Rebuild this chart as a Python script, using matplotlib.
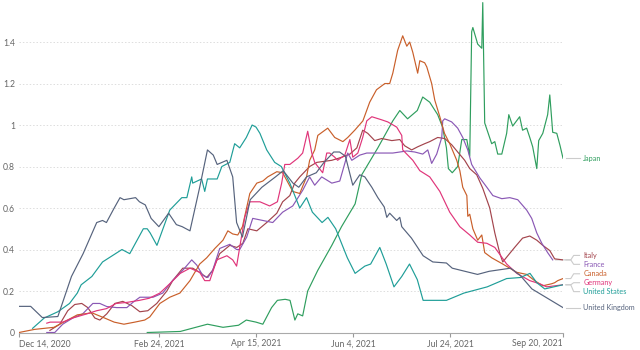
import numpy as np
import pandas as pd
import matplotlib
matplotlib.use("Agg")
import matplotlib.pyplot as plt
import matplotlib.dates as mdates

plt.rcParams['font.family'] = ['Lato', 'DejaVu Sans']

# ---------------- data ----------------
start_date = "2020-12-14"
end_date = "2021-09-20"

countries = ["Japan", "Italy", "France", "Canada", "Germany", "United States", "United Kingdom"]

japan_days = [66, 83, 89, 97, 105, 113, 117, 122, 125.5, 130, 133, 137, 139.5, 142, 143.5, 146,
              148.6, 153.8, 161, 166, 173, 176.4, 184.7, 192.4, 196, 200, 205, 207.8, 211.4, 215.5,
              218, 220, 221, 223, 225.8, 227.9, 230.5, 232, 233, 233.6, 236.1, 238.2, 238.7, 239.7,
              243.3, 244.9, 246.4, 248.5, 251, 252.1, 254.1, 257.7, 259.2, 261.3, 262.9, 264.4,
              266.5, 267.5, 269.6, 272.1, 273.2, 274.7, 276.8, 278.5, 280]
japan_vals = [0.0, 0.005, 0.02, 0.04, 0.025, 0.035, 0.06, 0.05, 0.04, 0.12, 0.155, 0.16, 0.155, 0.06,
              0.09, 0.08, 0.20, 0.30, 0.42, 0.51, 0.62, 0.76, 0.89, 1.02, 1.07, 1.03, 1.07, 1.135,
              1.11, 1.05, 0.99, 0.89, 0.79, 0.77, 0.80, 0.93, 0.93, 0.85, 1.45, 1.47, 1.39, 1.37,
              1.59, 1.01, 0.91, 0.92, 0.86, 0.86, 0.96, 1.05, 0.995, 1.04, 0.975, 0.985, 0.94,
              0.895, 0.79, 0.925, 0.96, 1.05, 1.145, 0.965, 0.96, 0.90, 0.84]

italy_days = [15.9, 21, 25.1, 28.7, 32.3, 35.4, 39, 41.6, 45.2, 49.3, 53.4, 58, 62.2, 66.3, 70.9,
              76.1, 79.1, 84.3, 89.4, 93, 96.6, 99.7, 103.3, 108.5, 112.1, 115.2, 117.8, 122.4,
              127.5, 132.7, 135.7, 139.4, 141.9, 144.5, 149.6, 153.3, 161, 166.2, 170.3, 173.9,
              176.9, 179.5, 183.1, 186.7, 191.9, 196, 198.5, 202.1, 205.2, 208.8, 211.4, 215.5,
              219.1, 222.7, 225.8, 229.4, 232, 235.6, 238.7, 242.3, 244.9, 247.5, 249, 251.6,
              255.1, 259.2, 262.9, 266.5, 269.6, 273.2, 275.7, 280]
italy_vals = [0.01, 0.04, 0.105, 0.135, 0.14, 0.12, 0.07, 0.06, 0.09, 0.14, 0.15, 0.13, 0.10, 0.105,
              0.14, 0.20, 0.25, 0.31, 0.31, 0.29, 0.265, 0.30, 0.38, 0.42, 0.41, 0.43, 0.50, 0.49,
              0.53, 0.575, 0.63, 0.66, 0.72, 0.75, 0.80, 0.82, 0.83, 0.845, 0.86, 0.89, 0.975,
              0.96, 0.925, 0.935, 0.925, 0.93, 0.90, 0.88, 0.895, 0.91, 0.92, 0.94, 0.935, 0.905,
              0.87, 0.83, 0.79, 0.76, 0.695, 0.60, 0.48, 0.38, 0.34, 0.37, 0.41, 0.455, 0.465,
              0.445, 0.42, 0.395, 0.355, 0.35]

france_days = [14.3, 18.4, 22.5, 27.7, 32.8, 38, 41.6, 45.2, 50.3, 55.5, 58.6, 62.2, 69, 74, 79,
               84.3, 88.9, 91.5, 94.6, 97.2, 99.7, 103.3, 108.5, 112, 113.6, 117.2, 120.3, 125.5,
               130.6, 135.7, 140.9, 146, 149.6, 152.2, 155.8, 161, 165.1, 169.2, 171.3, 175.4, 179,
               185.7, 192.4, 196, 199.6, 203.7, 207.8, 210.4, 212.4, 215, 217.6, 218.1, 219.1,
               222.7, 225.8, 228.4, 231, 233, 237.2, 240.8, 243.9, 248.5, 252.6, 256.7, 261.3,
               263.9, 266.5, 269.1, 272.1, 274.7]
france_vals = [0.0, 0.0, 0.04, 0.07, 0.09, 0.14, 0.14, 0.125, 0.12, 0.12, 0.145, 0.17, 0.17, 0.19,
               0.25, 0.30, 0.35, 0.325, 0.275, 0.265, 0.30, 0.405, 0.425, 0.40, 0.40, 0.46, 0.55,
               0.54, 0.53, 0.58, 0.61, 0.685, 0.75, 0.71, 0.75, 0.72, 0.73, 0.865, 0.83, 0.855,
               0.865, 0.865, 0.865, 0.87, 0.875, 0.87, 0.86, 0.88, 0.815, 0.86, 0.94, 1.02, 1.03,
               1.015, 0.985, 0.94, 0.88, 0.81, 0.745, 0.70, 0.66, 0.645, 0.65, 0.64, 0.59, 0.55,
               0.48, 0.43, 0.385, 0.35]

canada_days = [0, 8, 18, 25, 30, 37.5, 44, 49, 54, 59.6, 64.7, 67.3, 72.5, 77.6, 82.8, 88, 93,
               96.6, 100.8, 105, 107.5, 110, 112.6, 115, 118.8, 122.4, 125.5, 128, 132.7, 135.7,
               140.9, 144.5, 148, 149.6, 152.2, 153.8, 158.9, 162.5, 166.7, 169.2, 172.8, 177,
               180.5, 184, 188.3, 190.8, 192.4, 194.9, 197.5, 199.6, 201.1, 202.7, 205.2, 206.3,
               208.8, 209.9, 212.4, 214, 216.6, 219, 221.7, 225.3, 226.9, 228.4, 230.5, 231, 232,
               233.6, 236.1, 238.2, 239.7, 243.3, 249, 256.2, 261.3, 265.4, 269.6, 274.2, 275.7,
               277.3, 280]
canada_vals = [0.0, 0.015, 0.025, 0.06, 0.085, 0.095, 0.07, 0.05, 0.04, 0.05, 0.06, 0.075, 0.14,
               0.17, 0.19, 0.25, 0.33, 0.36, 0.405, 0.445, 0.49, 0.475, 0.47, 0.51, 0.67, 0.72,
               0.73, 0.75, 0.775, 0.77, 0.68, 0.67, 0.75, 0.83, 0.88, 0.95, 0.985, 0.94, 0.92,
               0.94, 0.975, 1.02, 1.11, 1.17, 1.20, 1.20, 1.25, 1.36, 1.43, 1.38, 1.40, 1.35,
               1.25, 1.31, 1.30, 1.28, 1.20, 1.12, 1.04, 0.96, 0.91, 0.83, 0.78, 0.70, 0.66, 0.56,
               0.57, 0.50, 0.445, 0.47, 0.385, 0.36, 0.33, 0.29, 0.28, 0.25, 0.225, 0.235, 0.24,
               0.25, 0.26]

germany_days = [14.3, 16, 22.5, 27.7, 35, 40, 45, 50, 55.5, 62, 67, 72.5, 77.6, 83, 88, 93, 95.6,
                98.2, 101.8, 107, 110, 112, 113.6, 116.2, 118.8, 124, 129, 133, 135.2, 136.8,
                139.4, 143.5, 146, 148.6, 150.7, 152.2, 153.8, 156.3, 158.4, 159.9, 162.5, 164,
                167.7, 170.3, 171.8, 174.4, 176.9, 179, 181.6, 186.7, 189.8, 194.4, 197, 197.5,
                202.7, 206.3, 211.4, 216.6, 221.7, 226.9, 232, 236.1, 240.8, 244.9, 251, 256.2,
                262.9, 268, 271.6, 280]
germany_vals = [0.045, 0.05, 0.05, 0.07, 0.09, 0.105, 0.115, 0.14, 0.145, 0.155, 0.165, 0.19,
                0.235, 0.285, 0.31, 0.29, 0.25, 0.25, 0.35, 0.37, 0.35, 0.32, 0.41, 0.555, 0.63,
                0.63, 0.61, 0.63, 0.72, 0.81, 0.81, 0.84, 0.865, 0.97, 0.865, 0.82, 0.80, 0.77,
                0.865, 0.865, 0.845, 0.83, 0.855, 0.93, 0.845, 0.865, 0.94, 1.02, 1.04, 1.025,
                1.015, 0.99, 0.95, 0.88, 0.83, 0.78, 0.75, 0.68, 0.58, 0.51, 0.47, 0.435, 0.43,
                0.41, 0.33, 0.285, 0.25, 0.235, 0.22, 0.23]

us_days = [7, 13, 20, 26, 30, 32, 37.5, 43, 48, 53, 57, 64, 66, 67.5, 71, 77.6, 83.8, 86.4, 88.9,
           89.4, 94, 95.6, 97, 102, 104.4, 108.5, 111, 113.6, 117, 120, 122, 124, 127.5, 131.6,
           135, 139.4, 144.5, 148, 151, 156, 159, 163, 166, 169, 173, 178, 181, 185.7, 189, 193,
           197, 201, 205, 208, 213, 220, 229, 241, 251, 258, 263, 266.5, 270.6, 280]
us_vals = [0.02, 0.07, 0.10, 0.14, 0.19, 0.23, 0.27, 0.34, 0.37, 0.40, 0.38, 0.50, 0.50, 0.48,
           0.42, 0.59, 0.65, 0.65, 0.75, 0.72, 0.74, 0.68, 0.74, 0.74, 0.80, 0.82, 0.91, 0.89,
           0.94, 1.00, 0.99, 0.96, 0.88, 0.82, 0.80, 0.72, 0.60, 0.65, 0.58, 0.53, 0.555, 0.50,
           0.43, 0.36, 0.285, 0.32, 0.33, 0.41, 0.33, 0.22, 0.27, 0.33, 0.255, 0.155, 0.155,
           0.155, 0.19, 0.22, 0.26, 0.265, 0.285, 0.24, 0.21, 0.23]

uk_days = [0, 6, 12, 20, 27, 33, 40, 43, 45, 49, 52, 54, 60, 62, 65, 68, 72, 77, 81, 84, 88, 93,
           97, 100, 102, 107, 110, 112, 115, 119, 125, 132, 136, 141, 144, 148, 153, 157, 162,
           165, 168, 171.8, 175.4, 178, 181.6, 184.7, 188, 189.3, 190.8, 194.4, 196, 197, 202,
           208, 213, 220, 223, 236, 242, 253, 258, 264, 280]
uk_vals = [0.126, 0.126, 0.072, 0.077, 0.27, 0.38, 0.53, 0.54, 0.53, 0.60, 0.65, 0.64, 0.65,
           0.63, 0.615, 0.55, 0.51, 0.575, 0.52, 0.51, 0.49, 0.70, 0.88, 0.855, 0.81, 0.83, 0.75,
           0.53, 0.46, 0.64, 0.70, 0.75, 0.78, 0.72, 0.70, 0.75, 0.77, 0.82, 0.87, 0.87, 0.85,
           0.71, 0.76, 0.75, 0.70, 0.65, 0.605, 0.555, 0.575, 0.54, 0.555, 0.51, 0.455, 0.37,
           0.34, 0.335, 0.31, 0.28, 0.295, 0.31, 0.275, 0.21, 0.12]

series_days = [japan_days, italy_days, france_days, canada_days, germany_days, us_days, uk_days]
series_vals = [japan_vals, italy_vals, france_vals, canada_vals, germany_vals, us_vals, uk_vals]

xtick_dates = ["2020-12-14", "2021-02-24", "2021-04-15", "2021-06-04", "2021-07-24", "2021-09-20"]
xtick_labels = ["Dec 14, 2020", "Feb 24, 2021", "Apr 15, 2021", "Jun 4, 2021", "Jul 24, 2021", "Sep 20, 2021"]
ytick_vals = [0, 0.2, 0.4, 0.6, 0.8, 1.0, 1.2, 1.4]
ytick_labels = ["0", "0.2", "0.4", "0.6", "0.8", "1", "1.2", "1.4"]

# ---------------- style ----------------
colors = {
    "Japan": "#2F9E5E",
    "Italy": "#A3444C",
    "France": "#8A58B5",
    "Canada": "#C95F2A",
    "Germany": "#E0357A",
    "United States": "#1F9E98",
    "United Kingdom": "#56637D",
}

W, H, DPI = 640, 350, 100
fig = plt.figure(figsize=(W / DPI, H / DPI), dpi=DPI)
ax_left, ax_right = 19 / W, 563 / W
ax_bottom, ax_top = (H - 332.5) / H, (H - 2) / H
ax = fig.add_axes([ax_left, ax_bottom, ax_right - ax_left, ax_top - ax_bottom])

t0 = pd.Timestamp(start_date)
t1 = pd.Timestamp(end_date)

for name, d, v in zip(countries, series_days, series_vals):
    dates = t0 + pd.to_timedelta(np.array(d), unit="D")
    ax.plot(dates, v, color=colors[name], lw=0.85, solid_joinstyle="round", zorder=3)

ax.set_xlim(t0, t1)
ax.set_ylim(0, 1.593)

ax.set_yticks(ytick_vals)
ax.set_yticklabels(ytick_labels)
ax.set_xticks(pd.to_datetime(xtick_dates))
ax.set_xticklabels(xtick_labels)
xl = ax.get_xticklabels()
xl[0].set_ha("left")
xl[-1].set_ha("right")

ax.tick_params(axis="y", length=0, pad=3, labelsize=6.2, labelcolor="#666666")
ax.tick_params(axis="x", length=3, width=0.8, color="#999999", pad=2, labelsize=6.2,
               labelcolor="#666666")
for s in ["top", "right", "left"]:
    ax.spines[s].set_visible(False)
ax.spines["bottom"].set_color("#aaaaaa")
ax.spines["bottom"].set_linewidth(0.8)
ax.grid(axis="y", color="#dddddd", linestyle=(0, (1.5, 2)), linewidth=0.7)
ax.grid(axis="x", visible=False)
ax.set_axisbelow(True)

# ---------------- end labels ----------------
end_vals = [v[-1] for v in series_vals]
end_days = [d[-1] for d in series_days]
order = sorted(range(len(countries)), key=lambda i: -end_vals[i])
pos = [end_vals[i] for i in order]
gap = 0.043
for _ in range(500):
    for k in range(len(pos) - 1):
        diff = pos[k] - pos[k + 1]
        if diff < gap:
            sh = (gap - diff) / 2
            pos[k] += sh
            pos[k + 1] -= sh
label_pos = {order[k]: pos[k] for k in range(len(order))}

def dday(x):
    return t0 + pd.Timedelta(days=x)

for i, name in enumerate(countries):
    ev, ed, lv = end_vals[i], end_days[i], label_pos[i]
    xs = [dday(ed + 1.5), dday(284.0), dday(285.5), dday(288.5)]
    ys = [ev, ev, lv, lv]
    ax.plot(xs, ys, color="#cccccc", lw=0.8, clip_on=False, zorder=1)
    ax.text(dday(290.5), lv, name, color=colors[name], fontsize=5.25,
            va="center", ha="left", clip_on=False)

fig.savefig("out.png", dpi=DPI)
